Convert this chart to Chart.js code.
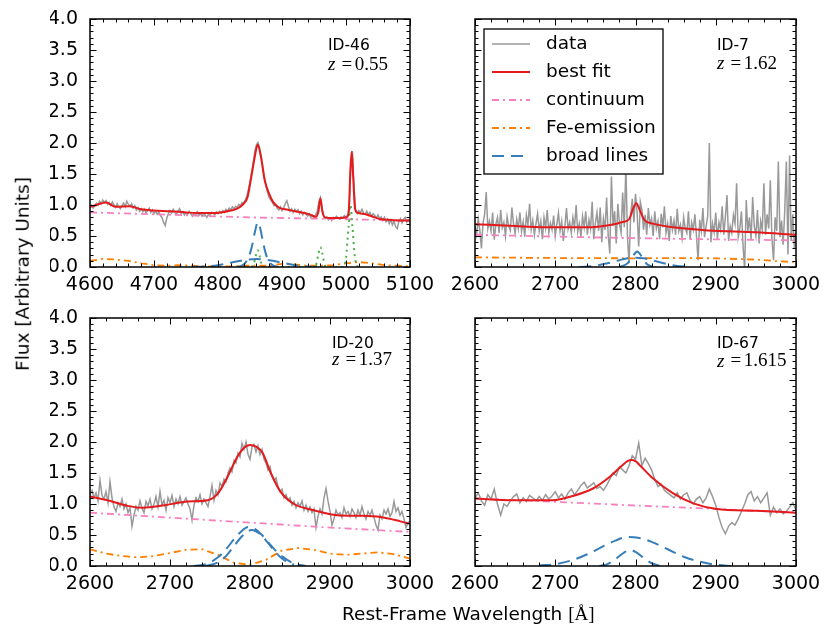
<!DOCTYPE html>
<html><head><meta charset="utf-8">
<script src="https://cdn.jsdelivr.net/npm/chart.js@4.4.1/dist/chart.umd.min.js"></script>
<style>
html,body{margin:0;padding:0;background:#fff;}
#wrap{position:relative;width:830px;height:638px;overflow:hidden;font-family:'DejaVu Sans',sans-serif;background:#fff;}
#wrap canvas{position:absolute;left:0;top:0;}
.lab{position:absolute;color:#000;font-size:18.5px;white-space:nowrap;line-height:1;}
.math{font-family:'Liberation Serif','DejaVu Serif',serif;font-size:19px;}
</style></head><body>
<div id="wrap">
<canvas id="c46" width="830" height="638"></canvas>
<canvas id="c7" width="830" height="638"></canvas>
<canvas id="c20" width="830" height="638"></canvas>
<canvas id="c67" width="830" height="638"></canvas>
<div class="lab" style="left:342px;top:614px;transform:translateY(-50%);">Rest-Frame Wavelength <span class="math">[Å]</span></div>
<div class="lab" style="left:22.5px;top:273.5px;transform:translate(-50%,-50%) rotate(-90deg);">Flux [Arbitrary Units]</div>
</div>
<script>
// ---------- labels / ticks ----------
const seriesNames = ['data','best fit','continuum','Fe-emission','broad lines'];
const panelIds = ['ID-46','ID-7','ID-20','ID-67'];
const panelZ = ['0.55','1.62','1.37','1.615'];
const yTicks = [0,0.5,1,1.5,2,2.5,3,3.5,4];
const xTicksHb = [4600,4700,4800,4900,5000,5100];
const xTicksMg = [2600,2700,2800,2900,3000];

// ---------- ID-46 (H-beta region) ----------
const id46DataStart = 4600, id46DataStep = 2.5;
const id46Data = [
0.97,1.00,0.95,0.99,1.03,1.00,1.06,1.02,1.08,1.04,
1.07,1.01,1.04,0.99,1.05,1.00,0.96,1.02,0.97,0.94,
0.99,1.03,0.97,1.06,1.01,0.98,1.02,0.95,0.99,0.92,
0.96,0.90,0.94,0.89,0.93,0.87,0.91,0.95,0.88,0.92,
0.86,0.90,0.85,0.89,0.83,0.80,0.72,0.67,0.79,0.86,
0.91,0.87,0.93,0.88,0.85,0.90,0.94,0.86,0.89,0.84,
0.88,0.85,0.90,0.86,0.82,0.87,0.84,0.89,0.83,0.86,
0.82,0.87,0.84,0.80,0.85,0.83,0.88,0.86,0.84,0.89,
0.86,0.90,0.87,0.91,0.88,0.93,0.90,0.95,0.92,0.97,
0.94,0.98,0.96,1.01,0.99,1.04,1.03,1.08,1.14,1.25,
1.38,1.52,1.68,1.86,1.97,2.01,1.93,1.78,1.62,1.45,
1.30,1.20,1.12,1.08,1.04,0.99,1.01,0.95,0.92,0.97,
0.91,0.95,1.02,1.07,0.98,0.90,0.94,0.88,0.93,0.89,
0.92,0.86,0.90,0.84,0.88,0.85,0.82,0.86,0.80,0.83,
0.79,0.84,0.90,1.05,1.12,0.95,0.83,0.78,0.81,0.76,
0.79,0.75,0.80,0.78,0.82,0.79,0.77,0.81,0.79,0.83,
0.80,0.84,0.98,1.60,1.87,1.30,0.92,0.86,0.91,0.88,
0.93,0.87,0.85,0.90,0.84,0.88,0.82,0.86,0.83,0.79,
0.84,0.78,0.81,0.75,0.80,0.73,0.77,0.70,0.76,0.68,
0.74,0.65,0.62,0.73,0.78,0.71,0.77,0.80,0.72,0.76,
0.75];
const id46FitWave = [4600,4610,4625,4640,4662,4680,4700,4726,4750,4768,4790,4805,4820,4830,4840,4846,4852,4857,4862,4867,4873,4880,4886,4895,4905,4920,4935,4945,4953,4957,4960,4963,4967,4975,4990,5000,5004,5007,5009,5011,5014,5017,5025,5034,5045,5055,5070,5085,5100];
const id46Fit = [0.97,1.00,1.04,0.97,0.98,0.93,0.91,0.90,0.88,0.87,0.87,0.88,0.91,0.94,1.02,1.12,1.45,1.75,1.97,1.78,1.40,1.18,1.05,0.96,0.93,0.90,0.87,0.84,0.81,0.90,1.11,0.90,0.80,0.79,0.79,0.80,0.85,1.60,1.86,1.50,0.95,0.88,0.86,0.84,0.80,0.77,0.76,0.75,0.75];
const id46ContWave = [4600,4650,4700,4750,4800,4850,4900,4950,5000,5050,5100];
const id46Cont = [0.88,0.865,0.85,0.835,0.815,0.80,0.79,0.78,0.77,0.76,0.75];
const id46FeWave = [4600,4620,4640,4660,4680,4700,4720,4740,4760,4780,4800,4820,4840,4860,4880,4900,4920,4940,4960,4980,5000,5020,5040,5060,5080,5100];
const id46Fe = [0.10,0.13,0.12,0.10,0.06,0.03,0.02,0.03,0.02,0.01,0.01,0.01,0.02,0.02,0.02,0.05,0.04,0.02,0.02,0.03,0.06,0.08,0.06,0.03,0.02,0.01];
const id46Broad1Wave = [4830,4840,4846,4850,4854,4858,4862,4866,4870,4874,4878,4884,4894];
const id46Broad1 = [0,0.04,0.12,0.22,0.38,0.58,0.72,0.62,0.42,0.24,0.12,0.04,0];
const id46Broad2Wave = [4760,4780,4800,4820,4840,4860,4880,4900,4920,4940,4960];
const id46Broad2 = [0,0.01,0.03,0.07,0.11,0.13,0.11,0.07,0.03,0.01,0];
const id46NarrowWave = [4852,4856,4859,4862,4865,4868,4872,4950,4954,4957,4960,4963,4966,4970,4996,5000,5004,5007,5010,5014,5018];
const id46Narrow = [0,0.05,0.18,0.27,0.18,0.05,0,0,0.06,0.22,0.32,0.22,0.06,0,0,0.15,0.65,1.0,0.65,0.15,0];

// ---------- ID-7 (Mg II region) ----------
const id7DataStart = 2600, id7DataStep = 2;
const id7Data = [
0.66,0.52,0.78,0.60,0.30,0.71,0.85,1.21,0.62,0.74,
0.58,0.88,0.44,0.69,0.80,0.55,0.92,0.63,0.72,0.50,
0.81,0.66,0.59,0.96,0.70,0.54,0.77,0.62,0.88,0.57,
0.73,0.49,0.84,0.68,1.02,0.60,0.75,0.52,0.70,0.86,
0.58,0.74,0.45,0.80,0.63,0.92,0.55,0.71,0.60,0.83,
0.50,0.69,0.87,0.58,0.74,0.42,0.66,0.95,0.61,0.72,
0.55,0.80,0.63,1.00,0.57,0.70,0.48,0.82,0.64,0.90,
0.52,0.76,0.62,1.05,0.45,0.71,0.88,0.58,0.96,0.40,
0.78,0.60,1.12,0.50,0.22,1.46,0.66,0.90,0.38,1.02,
0.70,0.55,1.20,0.64,1.65,0.48,0.06,0.85,1.10,0.72,
1.18,0.88,0.33,1.05,0.92,0.60,0.84,0.52,0.95,0.68,
0.78,0.50,0.90,0.62,0.74,0.45,0.86,0.64,0.98,0.55,
0.70,0.42,0.82,0.60,0.75,0.52,0.94,0.58,0.68,0.47,
0.80,0.62,0.55,0.90,0.44,0.72,0.60,0.85,0.50,0.11,
0.76,0.58,0.95,0.48,0.66,0.82,2.00,0.40,0.70,0.56,
0.88,0.45,0.72,0.60,0.98,0.52,0.80,1.16,0.42,0.66,
0.55,0.84,0.70,1.35,0.48,0.62,0.90,0.35,-0.05,1.08,
0.58,0.80,0.44,1.13,0.66,0.50,0.92,0.38,0.74,0.60,
1.35,0.52,0.85,0.62,1.40,0.45,0.11,0.80,0.58,1.70,
0.48,0.75,0.36,0.92,1.70,0.20,1.80,0.42,0.85,0.30,
0.55];
const id7FitWave = [2600,2650,2700,2745,2770,2785,2792,2797,2801,2805,2811,2822,2847,2890,2950,3000];
const id7Fit = [0.69,0.66,0.64,0.64,0.68,0.73,0.77,0.94,1.03,0.93,0.76,0.70,0.64,0.59,0.56,0.52];
const id7ContWave = [2600,2700,2800,2900,3000];
const id7Cont = [0.52,0.49,0.465,0.445,0.43];
const id7FeWave = [2600,2700,2800,2850,2900,2950,2980,3000];
const id7Fe = [0.155,0.145,0.14,0.145,0.14,0.12,0.09,0.08];
const id7Broad1Wave = [2780,2788,2793,2797,2800,2802,2805,2809,2814,2822];
const id7Broad1 = [0,0.04,0.10,0.18,0.23,0.25,0.22,0.14,0.05,0];
const id7Broad2Wave = [2730,2750,2765,2780,2790,2800,2810,2820,2835,2850,2870];
const id7Broad2 = [0,0.02,0.06,0.11,0.14,0.15,0.14,0.11,0.06,0.02,0];

// ---------- ID-20 ----------
const id20DataStart = 2600, id20DataStep = 2.5;
const id20Data = [
1.15,1.22,1.10,1.18,1.05,1.38,1.14,1.08,1.20,1.02,
1.36,1.10,0.95,0.88,1.02,0.96,1.08,0.92,1.00,0.86,
0.94,0.64,0.82,0.96,0.90,1.05,0.93,0.86,1.04,0.97,
1.08,0.92,1.00,1.12,0.95,1.20,0.98,1.06,0.90,1.10,
1.02,1.14,0.96,1.08,1.00,1.12,0.98,1.04,1.10,1.00,
0.92,0.74,0.98,1.10,1.04,1.15,1.00,1.08,1.02,0.96,
1.12,1.30,1.06,1.22,1.15,1.34,1.28,1.40,1.36,1.50,
1.58,1.52,1.70,1.66,1.82,1.76,1.98,1.88,2.00,1.80,
1.72,1.92,1.96,1.84,1.94,1.80,1.88,1.72,1.66,1.55,
1.60,1.45,1.38,1.42,1.28,1.20,1.24,1.10,1.15,1.06,
1.10,0.98,1.04,0.94,1.02,0.96,1.05,0.90,0.98,0.88,
0.95,0.86,0.92,0.62,0.80,0.92,0.84,1.10,1.25,1.05,
0.88,0.66,0.76,0.90,0.82,0.86,0.78,0.94,0.84,0.88,
0.80,0.92,0.86,0.78,0.90,0.82,0.96,0.84,0.76,0.88,
0.82,0.90,0.78,0.66,0.58,0.82,0.76,0.90,0.84,0.92,
0.80,0.86,1.04,0.88,0.94,0.82,0.88,0.76,0.62,0.70,
0.72];
const id20FitWave = [2600,2622,2647,2666,2693,2722,2747,2760,2772,2784,2792,2800,2808,2816,2826,2838,2855,2880,2909,2938,2963,2988,3000];
const id20Fit = [1.12,1.06,0.97,0.94,0.98,1.04,1.06,1.17,1.44,1.76,1.90,1.95,1.92,1.82,1.50,1.20,1.00,0.90,0.82,0.81,0.79,0.72,0.68];
const id20ContWave = [2600,2700,2800,2900,3000];
const id20Cont = [0.86,0.78,0.70,0.62,0.55];
const id20FeWave = [2600,2620,2640,2660,2680,2700,2720,2740,2760,2780,2800,2820,2840,2860,2880,2900,2920,2940,2960,2980,3000];
const id20Fe = [0.27,0.20,0.16,0.14,0.16,0.21,0.26,0.27,0.18,0.05,0.02,0.10,0.25,0.29,0.26,0.20,0.18,0.20,0.22,0.19,0.12];
const id20Broad1Wave = [2730,2745,2760,2770,2780,2790,2798,2806,2815,2825,2835,2845,2855,2870];
const id20Broad1 = [0,0.03,0.14,0.27,0.43,0.57,0.63,0.60,0.50,0.35,0.21,0.11,0.04,0];
const id20Broad2Wave = [2745,2760,2770,2780,2790,2802,2812,2822,2832,2842,2855];
const id20Broad2 = [0,0.06,0.16,0.32,0.48,0.58,0.52,0.38,0.22,0.10,0.02];

// ---------- ID-67 ----------
const id67DataStart = 2600, id67DataStep = 4;
const id67Data = [
1.10,1.18,1.05,0.98,1.15,1.08,1.24,1.00,0.82,1.00,
0.96,1.05,1.12,1.16,1.02,1.10,1.04,1.14,1.10,1.05,
1.12,1.06,1.15,1.08,1.13,1.20,1.10,1.16,1.08,1.18,
1.24,1.15,1.22,1.30,1.35,1.26,1.30,1.34,1.25,1.28,
1.22,1.30,1.40,1.50,1.46,1.60,1.55,1.50,1.62,1.78,
1.72,1.98,1.62,1.74,1.65,1.55,1.40,1.28,1.32,1.22,
1.18,1.14,1.10,1.18,1.08,1.15,1.18,1.06,1.00,1.08,
1.12,1.02,1.10,1.24,1.12,0.98,0.78,0.62,0.52,0.64,
0.70,0.66,0.76,0.88,1.00,1.15,1.20,1.05,1.12,1.02,
1.10,1.18,0.82,0.95,0.86,0.92,0.84,0.88,0.95,1.02,
0.90];
const id67FitWave = [2600,2647,2697,2722,2747,2768,2784,2790,2795,2800,2805,2822,2847,2872,2901,2951,3000];
const id67Fit = [1.09,1.06,1.06,1.13,1.25,1.44,1.63,1.69,1.71,1.69,1.63,1.41,1.17,1.01,0.92,0.89,0.86];
const id67ContWave = [2600,2700,2800,2900,3000];
const id67Cont = [1.09,1.035,0.975,0.92,0.865];
const id67Broad1Wave = [2680,2700,2720,2740,2760,2775,2790,2805,2820,2840,2860,2880,2900,2920];
const id67Broad1 = [0.01,0.03,0.09,0.19,0.32,0.41,0.47,0.45,0.39,0.27,0.15,0.07,0.02,0.0];
const id67Broad2Wave = [2755,2765,2775,2785,2793,2801,2811,2821,2831];
const id67Broad2 = [0,0.03,0.11,0.21,0.26,0.22,0.12,0.04,0];

// ---------- helpers ----------
function pts(xs, ys){ return ys.map((y,i)=>({x:xs[i], y:y})); }
function gridWave(start, step, n){ const a=[]; for(let i=0;i<n;i++) a.push(start+i*step); return a; }

const STY = {
  data:  {borderColor:'#999999', borderWidth:1.5, order:9},
  fit:   {borderColor:'#e41a1c', borderWidth:2, cubicInterpolationMode:'monotone', order:1},
  cont:  {borderColor:'#f781bf', borderWidth:1.8, borderDash:[7,4,2,4], order:5},
  fe:    {borderColor:'#ff7f00', borderWidth:1.8, borderDash:[7,4,2,4], order:4},
  broad: {borderColor:'#377eb8', borderWidth:2, borderDash:[12,7], cubicInterpolationMode:'monotone', order:3},
  narrow:{borderColor:'#4daf4a', borderWidth:2, borderDash:[2,4], cubicInterpolationMode:'monotone', order:2}
};
const legendKinds = ['data','fit','cont','fe','broad'];
const YW = 40, XH = 30, W = 830, H = 638;

const framePlugin = {
  id:'mplFrame',
  afterDatasetsDraw(chart, args, o){
    const ctx = chart.ctx, a = chart.chartArea, xs = chart.scales.x, ys = chart.scales.y;
    ctx.save();
    ctx.strokeStyle = '#000'; ctx.lineWidth = 1;
    ctx.beginPath();
    const xMaj = o.xMajor, yMaj = yTicks;
    for (let k=0; ; k++){
      const v = xs.min + k*o.xMinor; if (v > xs.max + 1e-6) break;
      const p = Math.round(xs.getPixelForValue(v)) + 0.5;
      const major = xMaj.some(m=>Math.abs(m-v)<1e-6);
      const L = major ? 6.5 : 3.5;
      ctx.moveTo(p, a.bottom); ctx.lineTo(p, a.bottom - L);
      ctx.moveTo(p, a.top); ctx.lineTo(p, a.top + L);
    }
    for (let k=0; ; k++){
      const v = ys.min + k*0.1; if (v > ys.max + 1e-6) break;
      const p = Math.round(ys.getPixelForValue(v)) + 0.5;
      const major = yMaj.some(m=>Math.abs(m-v)<1e-6);
      const L = major ? 6.5 : 3.5;
      ctx.moveTo(a.left, p); ctx.lineTo(a.left + L, p);
      ctx.moveTo(a.right, p); ctx.lineTo(a.right - L, p);
    }
    ctx.stroke();
    ctx.lineWidth = 1.5;
    ctx.strokeRect(a.left, a.top, a.right - a.left, a.bottom - a.top);
    // annotation
    const nx = a.right - o.noteDx;
    ctx.fillStyle = '#000';
    ctx.textBaseline = 'middle'; ctx.textAlign = 'left';
    ctx.font = '15.5px "DejaVu Sans"';
    ctx.fillText(o.name, nx, a.top + o.noteDy1);
    const zy = a.top + o.noteDy2;
    ctx.font = 'italic 19px "Liberation Serif"';
    ctx.fillText('z', nx, zy);
    ctx.font = '19px "Liberation Serif"';
    ctx.fillText('=', nx + 13.4, zy);
    ctx.fillText(o.z, nx + 26.7, zy);
    // legend
    if (o.legend){
      const lx = a.left + 9, ly = a.top + 10, lw = 179, lh = 145;
      ctx.fillStyle = '#fff';
      ctx.fillRect(lx, ly, lw, lh);
      ctx.lineWidth = 1.3; ctx.strokeStyle = '#000';
      ctx.strokeRect(lx, ly, lw, lh);
      ctx.font = '18.5px "DejaVu Sans"';
      seriesNames.forEach((nm, i)=>{
        const st = STY[legendKinds[i]];
        const yy = ly + 15 + 28*i;
        ctx.save();
        ctx.strokeStyle = st.borderColor; ctx.lineWidth = st.borderWidth;
        ctx.setLineDash(st.borderDash || []);
        ctx.beginPath(); ctx.moveTo(lx + 8, yy); ctx.lineTo(lx + 46, yy); ctx.stroke();
        ctx.restore();
        ctx.fillStyle = '#000';
        ctx.fillText(nm, lx + 62, yy);
      });
    }
    ctx.restore();
  }
};

function makePanel(canvasId, p){
  const datasets = p.series.map(s => Object.assign(
    {label:s.label, data:pts(s.x, s.y), pointRadius:0, fill:false}, STY[s.kind]));
  return new Chart(document.getElementById(canvasId), {
    type:'line',
    data:{datasets},
    options:{
      responsive:false, animation:false, events:[], devicePixelRatio:1,
      layout:{autoPadding:false, padding:{left:p.box[0]-YW, right:W-p.box[1], top:p.box[2], bottom:H-p.box[3]-XH}},
      scales:{
        x:{type:'linear', min:p.xTicks[0], max:p.xTicks[p.xTicks.length-1],
           afterFit(s){ s.height = XH; },
           afterBuildTicks(s){ s.ticks = p.xTicks.map(v=>({value:v})); },
           grid:{display:false}, border:{display:false},
           ticks:{color:'#000', font:{family:'DejaVu Sans', size:19, lineHeight:1.1}, padding:0, maxRotation:0, autoSkip:false, callback:v=>String(v)}},
        y:{type:'linear', min:0, max:4,
           afterFit(s){ s.width = YW; },
           afterBuildTicks(s){ s.ticks = yTicks.map(v=>({value:v})); },
           grid:{display:false}, border:{display:false},
           ticks:{display:p.showY, color:'#000', font:{family:'DejaVu Sans', size:19}, padding:4, callback:v=>Number(v).toFixed(1)}}
      },
      plugins:{
        legend:{display:false}, tooltip:{enabled:false},
        mplFrame:{xMajor:p.xTicks, xMinor:20, name:p.name, z:p.z, noteDx:p.note[0], noteDy1:p.note[1], noteDy2:p.note[2], legend:p.legend}
      }
    },
    plugins:[framePlugin]
  });
}

makePanel('c46', {
  box:[90,410,19,267], xTicks:xTicksHb, showY:true, name:panelIds[0], z:panelZ[0], note:[82,26.5,46], legend:false,
  series:[
    {kind:'data', label:seriesNames[0], x:gridWave(id46DataStart,id46DataStep,id46Data.length), y:id46Data},
    {kind:'fit', label:seriesNames[1], x:id46FitWave, y:id46Fit},
    {kind:'cont', label:seriesNames[2], x:id46ContWave, y:id46Cont},
    {kind:'fe', label:seriesNames[3], x:id46FeWave, y:id46Fe},
    {kind:'broad', label:seriesNames[4], x:id46Broad1Wave, y:id46Broad1},
    {kind:'broad', label:seriesNames[4], x:id46Broad2Wave, y:id46Broad2},
    {kind:'narrow', label:'narrow lines', x:id46NarrowWave, y:id46Narrow}
  ]});
makePanel('c7', {
  box:[475,796,19,267], xTicks:xTicksMg, showY:false, name:panelIds[1], z:panelZ[1], note:[79,27,45], legend:true,
  series:[
    {kind:'data', label:seriesNames[0], x:gridWave(id7DataStart,id7DataStep,id7Data.length), y:id7Data},
    {kind:'fit', label:seriesNames[1], x:id7FitWave, y:id7Fit},
    {kind:'cont', label:seriesNames[2], x:id7ContWave, y:id7Cont},
    {kind:'fe', label:seriesNames[3], x:id7FeWave, y:id7Fe},
    {kind:'broad', label:seriesNames[4], x:id7Broad1Wave, y:id7Broad1},
    {kind:'broad', label:seriesNames[4], x:id7Broad2Wave, y:id7Broad2}
  ]});
makePanel('c20', {
  box:[90,410,318,566], xTicks:xTicksMg, showY:true, name:panelIds[2], z:panelZ[2], note:[78,25.5,42], legend:false,
  series:[
    {kind:'data', label:seriesNames[0], x:gridWave(id20DataStart,id20DataStep,id20Data.length), y:id20Data},
    {kind:'fit', label:seriesNames[1], x:id20FitWave, y:id20Fit},
    {kind:'cont', label:seriesNames[2], x:id20ContWave, y:id20Cont},
    {kind:'fe', label:seriesNames[3], x:id20FeWave, y:id20Fe},
    {kind:'broad', label:seriesNames[4], x:id20Broad1Wave, y:id20Broad1},
    {kind:'broad', label:seriesNames[4], x:id20Broad2Wave, y:id20Broad2}
  ]});
makePanel('c67', {
  box:[475,796,318,566], xTicks:xTicksMg, showY:false, name:panelIds[3], z:panelZ[3], note:[79,25.5,43.5], legend:false,
  series:[
    {kind:'data', label:seriesNames[0], x:gridWave(id67DataStart,id67DataStep,id67Data.length), y:id67Data},
    {kind:'fit', label:seriesNames[1], x:id67FitWave, y:id67Fit},
    {kind:'cont', label:seriesNames[2], x:id67ContWave, y:id67Cont},
    {kind:'broad', label:seriesNames[4], x:id67Broad1Wave, y:id67Broad1},
    {kind:'broad', label:seriesNames[4], x:id67Broad2Wave, y:id67Broad2}
  ]});
</script>
</body></html>
